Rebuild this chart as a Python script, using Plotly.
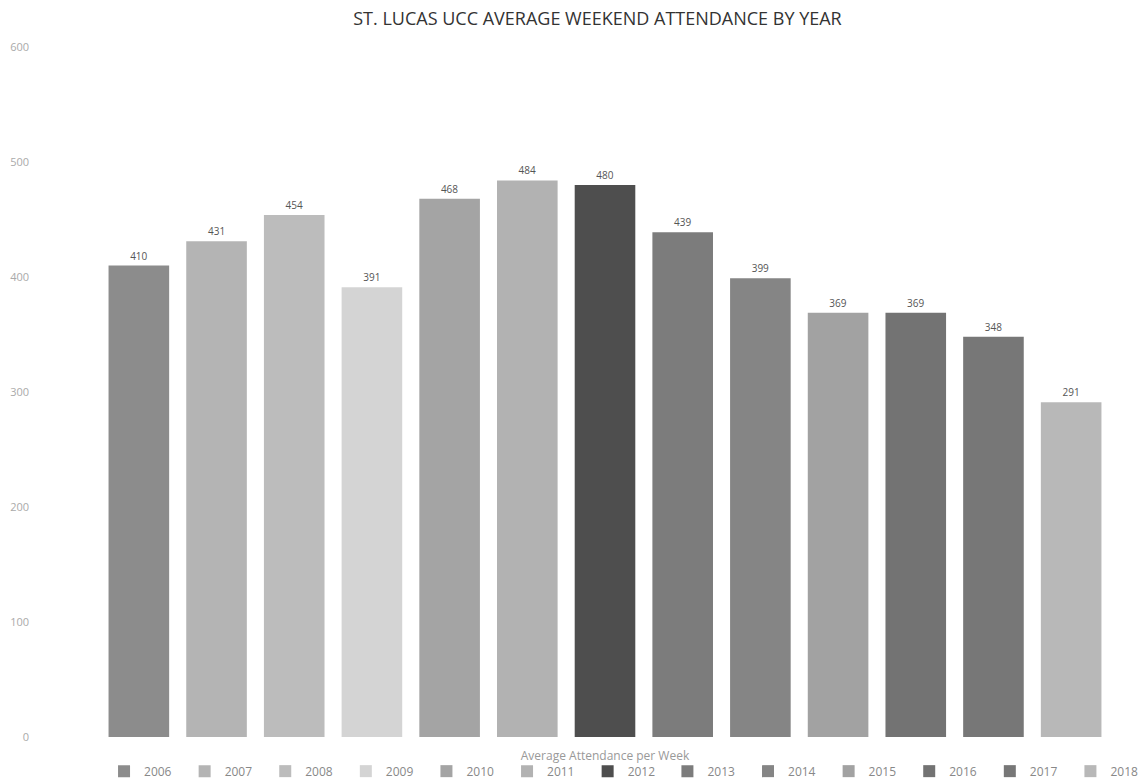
import plotly.graph_objects as go

years = ["2006", "2007", "2008", "2009", "2010", "2011", "2012",
         "2013", "2014", "2015", "2016", "2017", "2018"]
attendance = [410, 431, 454, 391, 468, 484, 480, 439, 399, 369, 369, 348, 291]
colors = ["#8c8c8c", "#b4b4b4", "#bcbcbc", "#d4d4d4", "#a4a4a4", "#b2b2b2", "#4e4e4e",
          "#7c7c7c", "#858585", "#a2a2a2", "#737373", "#777777", "#b8b8b8"]
category = "Average Attendance per Week"
y_ticks = [0, 100, 200, 300, 400, 500, 600]

fig = go.Figure()
for i, (yr, val, col) in enumerate(zip(years, attendance, colors)):
    fig.add_trace(go.Bar(
        x=[category], y=[val], name=yr,
        legend="legend" if i < 7 else "legend2",
        marker=dict(color=col, line=dict(width=0)),
        text=[str(val)], textposition="outside",
        textfont=dict(size=10, color="#555555", family="Open Sans"),
        cliponaxis=False,
    ))

legend_common = dict(orientation="h", xanchor="left", y=-0.0705, yanchor="bottom",
                     entrywidth=35.6, entrywidthmode="pixels",
                     font=dict(size=12, color="#888888"),
                     itemwidth=30, bgcolor="rgba(0,0,0,0)")

fig.update_layout(
    width=1138, height=773,
    paper_bgcolor="white", plot_bgcolor="white",
    margin=dict(l=92, r=36, t=39, b=44, autoexpand=False),
    barmode="group", bargap=0.0, bargroupgap=0.22,
    title=dict(text="ST. LUCAS UCC AVERAGE WEEKEND ATTENDANCE BY YEAR",
               x=0.518, xanchor="center", y=0.9945, yanchor="top",
               pad=dict(t=0, b=0),
               font=dict(family="Open Sans", size=18, color="#333333")),
    font=dict(family="Open Sans", color="#888888"),
    showlegend=True,
    legend=dict(x=0.004, **legend_common),
    legend2=dict(x=0.5618, **legend_common),
    xaxis=dict(showgrid=False, showline=False, zeroline=False, automargin=False,
               tickfont=dict(size=12, color="#999999"), ticks="",
               ticklabelstandoff=10),
    yaxis=dict(range=[0, 600], tickvals=y_ticks, showgrid=False, zeroline=False,
               showline=False, automargin=False,
               tickfont=dict(size=11, color="#aaaaaa"),
               ticklabelstandoff=70),
)

fig.write_html("out.html")
